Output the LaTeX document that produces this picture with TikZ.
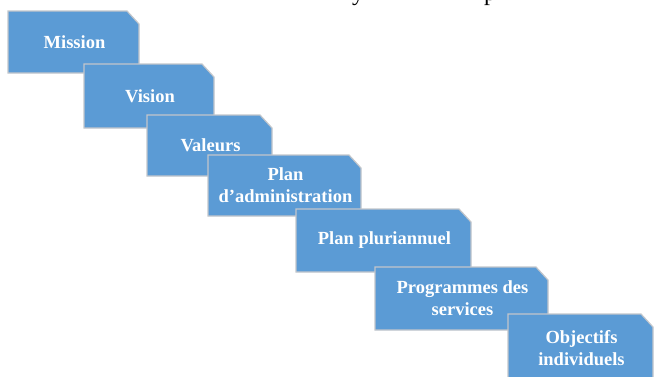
\documentclass[tikz,border=0pt]{standalone}
\usepackage{fontspec}
\setmainfont{Liberation Serif}
\definecolor{boxblue}{HTML}{5B9BD5}
\definecolor{boxedge}{HTML}{C2C6CB}

% Step box with the upper right corner cut off:
% #1 name, #2 left, #3 top, #4 width, #5 height, #6 label
\newcommand\stepblock[6]{%
  \path[stepfill] (#2,#3) -- ({#2+#4-12},#3) -- ({#2+#4},{#3+13})
    -- ({#2+#4},{#3+#5}) -- (#2,{#3+#5}) -- cycle;
  \node[steplabel] (#1) at ({#2+#4/2+1},{#3+#5/2}) {#6};%
}

\begin{document}
\begin{tikzpicture}[x=1pt,y=-1pt,
  stepfill/.style={fill=boxblue, draw=boxedge, line width=1.2pt, line join=miter},
  steplabel/.style={text=white, align=center, inner sep=0pt,
    font=\bfseries\fontsize{18.5}{22}\selectfont},
  headline/.style={anchor=base west, inner sep=0pt,
    font=\fontsize{24}{28}\selectfont}]
  \useasboundingbox (0,0) rectangle (654,376);

  % descenders of the heading line above
  \node[headline] (heady) at (352,0) {y};
  \node[headline] (headp) at (484,0) {p};

  \stepblock{mission}{8}{11}{131}{62}{Mission}
  \stepblock{vision}{84}{64}{130}{64}{Vision}
  \stepblock{valeurs}{147}{115}{125}{61}{Valeurs}
  \stepblock{admin}{208}{155}{153}{61}{Plan\\d’administration}
  \stepblock{plurian}{296}{209}{175}{63}{Plan pluriannuel}
  \stepblock{services}{375}{267}{173}{63}{Programmes des\\services}
  \stepblock{objectifs}{508}{314}{145}{68}{Objectifs\\individuels}
\end{tikzpicture}
\end{document}
